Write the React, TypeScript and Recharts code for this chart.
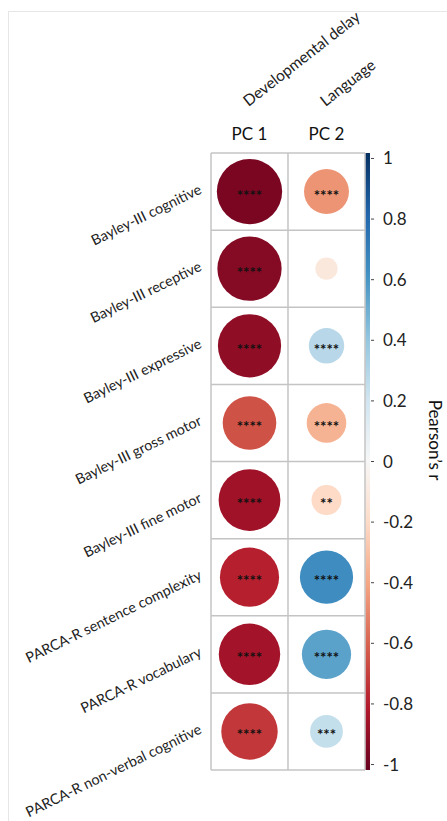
import {
  ReferenceArea,
  ReferenceLine,
  Scatter,
  ScatterChart,
  XAxis,
  YAxis,
  ZAxis,
} from "recharts";

const rowLabels = [
  "Bayley-III cognitive",
  "Bayley-III receptive",
  "Bayley-III expressive",
  "Bayley-III gross motor",
  "Bayley-III fine motor",
  "PARCA-R sentence complexity",
  "PARCA-R vocabulary",
  "PARCA-R non-verbal cognitive",
];
const pcLabels = ["PC 1", "PC 2"];
const pcNames = ["Developmental delay", "Language"];

const pc1R = [-0.95, -0.92, -0.89, -0.64, -0.85, -0.78, -0.84, -0.71];
const pc2R = [-0.45, -0.11, 0.28, -0.35, -0.2, 0.63, 0.54, 0.24];
const pc1Sig = ["****", "****", "****", "****", "****", "****", "****", "****"];
const pc2Sig = ["****", "", "****", "****", "**", "****", "****", "***"];

const colorbarTicks = [-1, -0.8, -0.6, -0.4, -0.2, 0, 0.2, 0.4, 0.6, 0.8, 1];

const RDBU = [
  "#67001f", "#b2182b", "#d6604d", "#f4a582", "#fddbc7", "#f7f7f7",
  "#d1e5f0", "#92c5de", "#4393c3", "#2166ac", "#053061",
];

const FONT = "Lato, 'Open Sans', sans-serif";

function hexToRgb(h: string) {
  return [1, 3, 5].map((i) => parseInt(h.slice(i, i + 2), 16));
}

function rdbu(v: number) {
  const t = ((v + 1) / 2) * 10;
  const i = Math.max(0, Math.min(9, Math.floor(t)));
  const f = t - i;
  const a = hexToRgb(RDBU[i]);
  const b = hexToRgb(RDBU[i + 1]);
  const c = a.map((x, k) => Math.round(x + (b[k] - x) * f));
  return `rgb(${c[0]},${c[1]},${c[2]})`;
}

const toPoints = (col: number, vals: number[], sig: string[]) =>
  vals.map((r, i) => ({ x: col, y: i, r, abs: Math.abs(r), sig: sig[i] }));

const pc1Data = toPoints(0, pc1R, pc1Sig);
const pc2Data = toPoints(1, pc2R, pc2Sig);

function CellShape(props: any) {
  const { cx, cy, payload } = props;
  const rad = props.width ? props.width / 2 : Math.sqrt((props.size || 0) / Math.PI);
  return (
    <g>
      <circle cx={cx} cy={cy} r={rad} fill={rdbu(payload.r)} />
      {payload.sig && (
        <text
          x={cx}
          y={cy}
          dy="0.6em"
          textAnchor="middle"
          fontSize={15}
          fontWeight="bold"
          fontFamily={FONT}
          fill="#111"
        >
          {payload.sig}
        </text>
      )}
    </g>
  );
}

function RowTick({ x, y, payload }: any) {
  return (
    <text
      x={x}
      y={y}
      dy="0.1em"
      textAnchor="end"
      fontSize={14.4}
      fontFamily={FONT}
      fill="#222"
      transform={`rotate(-26, ${x}, ${y})`}
    >
      {rowLabels[payload.value]}
    </text>
  );
}

function ColTick({ x, y, payload }: any) {
  const i = payload.value;
  return (
    <g>
      <text x={x} y={y - 13} textAnchor="middle" fontSize={17} fontFamily={FONT} fill="#111">
        {pcLabels[i]}
      </text>
      <text
        x={x - 1}
        y={y - 46}
        textAnchor="start"
        fontSize={15.5}
        fontFamily={FONT}
        fill="#222"
        transform={`rotate(-38, ${x - 1}, ${y - 46})`}
      >
        {pcNames[i]}
      </text>
    </g>
  );
}

function BarLabel({ viewBox }: any) {
  const x = viewBox.x + 64;
  const y = viewBox.y + 287;
  return (
    <text
      x={x}
      y={y}
      textAnchor="middle"
      dominantBaseline="central"
      fontSize={17}
      fontFamily={FONT}
      fill="#111"
      transform={`rotate(90, ${x}, ${y})`}
    >
      Pearson’s r
    </text>
  );
}

export default function App() {
  const hLines = Array.from({ length: rowLabels.length + 1 }, (_, k) => k - 0.5);
  const vLines = Array.from({ length: pcLabels.length + 1 }, (_, k) => k - 0.5);

  return (
    <div>
      <div
        style={{
          position: "absolute",
          left: 8,
          top: 11,
          right: 0,
          bottom: 0,
          borderTop: "1px solid #e6e6e6",
          borderLeft: "1px solid #e6e6e6",
        }}
      />
      <div style={{ position: "absolute", left: 0, top: 0 }}>
        <ScatterChart
          width={447}
          height={821}
          margin={{ top: 23, right: 6, bottom: 51, left: 21 }}
        >
          <defs>
            <linearGradient id="cbar" x1="0" y1="1" x2="0" y2="0">
              {RDBU.map((c, i) => (
                <stop key={c} offset={`${i * 10}%`} stopColor={c} />
              ))}
            </linearGradient>
          </defs>
          <XAxis
            type="number"
            dataKey="x"
            orientation="top"
            domain={[-0.5, 1.578]}
            allowDataOverflow
            ticks={[0, 1]}
            tick={<ColTick />}
            axisLine={false}
            tickLine={false}
            tickSize={0}
            tickMargin={0}
            height={130}
          />
          <YAxis
            yAxisId="rows"
            type="number"
            dataKey="y"
            domain={[-0.5, 7.5]}
            reversed
            allowDataOverflow
            ticks={[0, 1, 2, 3, 4, 5, 6, 7]}
            interval={0}
            tick={<RowTick />}
            axisLine={false}
            tickLine={false}
            tickSize={0}
            tickMargin={9}
            width={190}
          />
          <YAxis
            yAxisId="cb"
            orientation="right"
            type="number"
            domain={[-1.018, 1.018]}
            allowDataOverflow
            ticks={colorbarTicks}
            interval={0}
            tickFormatter={(v: number) => String(Math.round(v * 10) / 10)}
            tick={{ fontSize: 17, fontFamily: FONT, fill: "#222" }}
            axisLine={false}
            tickLine={{ stroke: "#444" }}
            tickSize={3}
            tickMargin={9}
            width={70}
            label={<BarLabel />}
          />
          <ZAxis type="number" dataKey="abs" domain={[0, 1]} range={[0, 3526]} />
          {hLines.map((y) => (
            <ReferenceLine
              key={`h${y}`}
              yAxisId="rows"
              segment={[
                { x: -0.5, y },
                { x: 1.5, y },
              ]}
              stroke="#c4c4c4"
              strokeWidth={1.5}
            />
          ))}
          {vLines.map((x) => (
            <ReferenceLine
              key={`v${x}`}
              yAxisId="rows"
              segment={[
                { x, y: -0.5 },
                { x, y: 7.5 },
              ]}
              stroke="#c4c4c4"
              strokeWidth={1.5}
            />
          ))}
          <ReferenceArea
            yAxisId="cb"
            x1={1.502}
            x2={1.565}
            y1={-1.018}
            y2={1.018}
            fill="url(#cbar)"
            fillOpacity={1}
            stroke="none"
          />
          <Scatter
            name="PC 1"
            yAxisId="rows"
            data={pc1Data}
            shape={<CellShape />}
            isAnimationActive={false}
          />
          <Scatter
            name="PC 2"
            yAxisId="rows"
            data={pc2Data}
            shape={<CellShape />}
            isAnimationActive={false}
          />
        </ScatterChart>
      </div>
    </div>
  );
}
